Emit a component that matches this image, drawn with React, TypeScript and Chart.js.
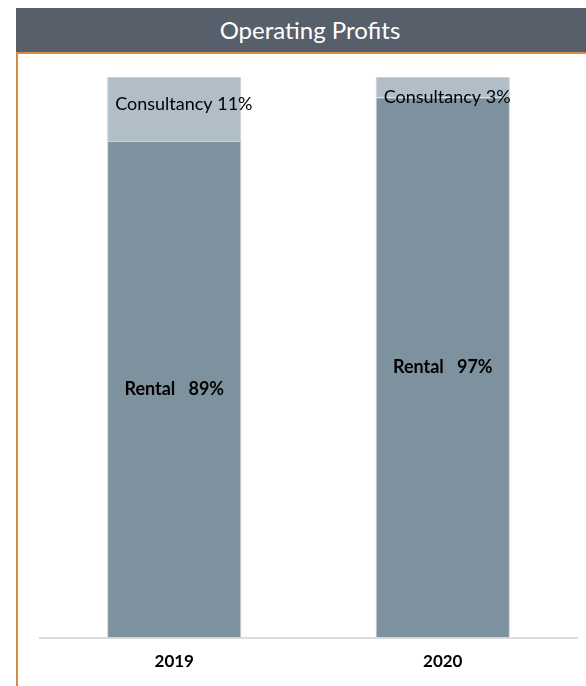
import React, { useEffect, useRef } from "react";
import { Chart, registerables } from "chart.js";

Chart.register(...registerables);

const categories = ["2019", "2020"];
const rentalValues = [88.6, 96.4];
const consultancyValues = [11.4, 3.6];
const rentalLabels = ["Rental   89%", "Rental   97%"];
const consultancyLabels = ["Consultancy 11%", "Consultancy 3%"];
const titleText = "Operating Profits";

const FONT = "Lato, 'Noto Sans', sans-serif";

const labelPlugin = {
  id: "segmentLabels",
  afterDatasetsDraw(chart: any) {
    const ctx = chart.ctx;
    ctx.save();
    ctx.fillStyle = "#000000";
    const rentalMeta = chart.getDatasetMeta(0);
    rentalMeta.data.forEach((el: any, i: number) => {
      const { x, y, base } = el.getProps(["x", "y", "base"], true);
      ctx.font = `bold 18px ${FONT}`;
      ctx.textAlign = "center";
      ctx.textBaseline = "middle";
      ctx.fillText(rentalLabels[i], x, (y + base) / 2);
    });
    const consMeta = chart.getDatasetMeta(1);
    consMeta.data.forEach((el: any, i: number) => {
      const { x, y, base, width } = el.getProps(["x", "y", "base", "width"], true);
      ctx.font = `18px ${FONT}`;
      ctx.textAlign = "left";
      ctx.textBaseline = "middle";
      const cy = Math.max((y + base) / 2 - 5, y + 20);
      ctx.fillText(consultancyLabels[i], x - width / 2 + 8, cy);
    });
    ctx.restore();
  },
};

export default function App() {
  const canvasRef = useRef<HTMLCanvasElement | null>(null);

  useEffect(() => {
    if (!canvasRef.current) return;
    const chart = new Chart(canvasRef.current, {
      type: "bar",
      data: {
        labels: categories,
        datasets: [
          {
            label: "Rental",
            data: rentalValues,
            backgroundColor: "#7d919f",
            borderColor: "#c9d2d9",
            borderWidth: 1,
            barPercentage: 0.5,
            categoryPercentage: 1,
          },
          {
            label: "Consultancy",
            data: consultancyValues,
            backgroundColor: "#b1bdc7",
            borderColor: "#c9d2d9",
            borderWidth: 1,
            barPercentage: 0.5,
            categoryPercentage: 1,
          },
        ],
      },
      options: {
        animation: false,
        responsive: true,
        maintainAspectRatio: false,
        layout: { padding: { left: 40, right: 9, top: 77, bottom: 0 } },
        plugins: {
          legend: { display: false },
          tooltip: { enabled: false },
          title: { display: false },
        },
        scales: {
          x: {
            stacked: true,
            grid: { display: false, drawTicks: false, tickLength: 0 },
            border: { display: true, color: "#dcdcdc", width: 2 },
            ticks: {
              color: "#000000",
              padding: 14,
              font: { family: FONT, size: 17, weight: "bold" },
            },
          },
          y: {
            stacked: true,
            display: false,
            min: 0,
            max: 100,
          },
        },
      },
      plugins: [labelPlugin],
    });
    return () => chart.destroy();
  }, []);

  return (
    <div
      style={{
        position: "fixed",
        left: 0,
        top: 0,
        width: 586,
        height: 686,
        overflow: "hidden",
        background: "#ffffff",
      }}
    >
      <div
        style={{
          position: "absolute",
          left: 16,
          top: 52,
          width: 600,
          height: 660,
          borderTop: "2px solid #d68c42",
          borderLeft: "2px solid #d68c42",
          boxSizing: "border-box",
        }}
      />
      <div
        style={{
          position: "absolute",
          left: 16,
          top: 8,
          width: 588,
          height: 44,
          background: "#575f6b",
          color: "#ffffff",
          fontFamily: FONT,
          fontSize: 24,
          lineHeight: "44px",
          textAlign: "center",
        }}
      >
        {titleText}
      </div>
      <div style={{ position: "absolute", left: 0, top: 0, width: 586, height: 686 }}>
        <canvas ref={canvasRef} />
      </div>
    </div>
  );
}
